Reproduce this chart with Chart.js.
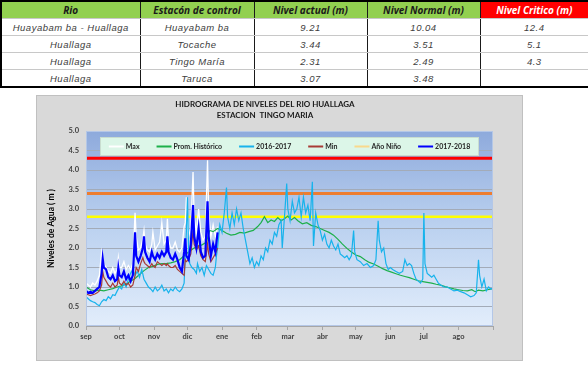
<!DOCTYPE html>
<html>
<head>
<meta charset="utf-8">
<script src="https://cdn.jsdelivr.net/npm/chart.js@4/dist/chart.umd.min.js"></script>
<style>
  body { margin: 0; background: #fff; width: 588px; height: 365px; position: relative; overflow: hidden; }
  table { position: absolute; left: 0; top: 0; width: 588px; border-collapse: collapse; table-layout: fixed; border: 2px solid #000; }
  td, th { padding: 0; text-align: center; border-left: 1px solid #1a1a1a; border-right: 1px solid #1a1a1a;
           border-top: 1px solid #c8c8c8; border-bottom: 1px solid #c8c8c8; white-space: nowrap; }
  th { height: 16px; background: #92d050; color: #1a1a1a; font: italic bold 10px "Open Sans", sans-serif; }
  th.critico { background: #ff0000; color: #fff; }
  td { height: 16px; font: italic 9.5px "Liberation Sans", Arial, sans-serif; letter-spacing: 0.5px; color: #404040; }
  #caja { position: absolute; left: 36px; top: 95px; width: 487px; height: 266px; box-sizing: border-box;
          border: 1px solid #c0c0c0; background: #d9d9d9; }
  #caja canvas { display: block; }
</style>
</head>
<body>
<table id="tabla">
  <colgroup><col style="width:139px"><col style="width:114px"><col style="width:113px"><col style="width:113px"><col style="width:109px"></colgroup>
  <thead><tr id="cabecera"></tr></thead>
  <tbody id="cuerpo"></tbody>
</table>
<div id="caja"><canvas id="grafico" width="485" height="264"></canvas></div>
<script>
// ---- tabla de estaciones ----
const encabezados = ['Rio', 'Estacón de control', 'Nivel actual (m)', 'Nivel Normal (m)', 'Nivel Critico (m)']
const rios = ['Huayabam ba - Huallaga', 'Huallaga', 'Huallaga', 'Huallaga']
const estaciones = ['Huayabam ba', 'Tocache', 'Tingo María', 'Taruca']
const nivelActual = ['9.21', '3.44', '2.31', '3.07']
const nivelNormal = ['10.04', '3.51', '2.49', '3.48']
const nivelCritico = ['12.4', '5.1', '4.3', '']

// ---- hidrograma: dias contados desde el 1 de setiembre ----
const meses = ['sep', 'oct', 'nov', 'dic', 'ene', 'feb', 'mar', 'abr', 'may', 'jun', 'jul', 'ago']
const inicioMes = [0, 30, 61, 91, 122, 153, 181, 212, 242, 273, 303, 334, 365]

// temporada 2017-2018 (Max, Min y niveles del año) comparten dias
const diasTemporada = [0, 2, 4, 6, 8, 10, 12, 14, 15, 16, 18, 20, 22, 24, 26, 28, 29, 30, 32, 34, 36, 38, 40, 42, 44, 45,
  47, 49, 51, 52, 53, 55, 57, 59, 60, 62, 64, 66, 68, 70, 72, 73, 74, 76, 78, 80, 82, 84, 86, 88, 89, 90, 92, 94, 96, 97,
  99, 101, 103, 105, 107, 109, 110, 112, 114, 116, 118]
const nivel2018 = [0.9, 0.85, 0.88, 0.85, 0.9, 0.95, 1.0, 1.35, 1.72, 1.5, 1.45, 1.25, 1.2, 1.3, 1.15, 1.2, 1.5, 1.3, 1.25, 1.4, 1.2, 1.3, 1.15, 1.3, 2.4, 1.8,
  1.65, 1.8, 2.0, 2.3, 1.9, 1.75, 1.65, 1.9, 1.8, 1.7, 1.85, 1.75, 1.9, 1.8, 1.9, 2.3, 1.9, 1.75, 1.7, 1.85, 1.7, 1.5, 1.4, 1.9, 2.25, 1.8, 1.7, 2.1, 3.1, 2.3,
  2.0, 2.5, 1.9, 1.75, 1.8, 3.2, 2.3, 1.8, 2.1, 1.9, 2.4]
const nivelMax = [1.1, 1.05, 1.0, 1.1, 1.05, 1.15, 1.3, 1.9, 1.75, 1.6, 1.5, 1.4, 1.35, 1.5, 1.35, 1.45, 1.75, 1.5, 1.5, 1.65, 1.45, 1.55, 1.45, 1.6, 2.9, 2.3,
  1.95, 2.0, 2.25, 2.45, 2.1, 1.95, 1.9, 2.1, 2.4, 1.95, 2.05, 2.15, 2.65, 2.1, 2.2, 2.75, 2.2, 2.0, 2.0, 2.15, 1.95, 1.9, 2.0, 2.55, 2.65, 3.3, 2.3, 2.5, 3.95, 2.8,
  2.4, 3.0, 2.4, 2.2, 2.3, 4.25, 2.9, 2.3, 2.6, 2.3, 2.55]
const nivelMin = [0.82, 0.8, 0.78, 0.8, 0.82, 0.85, 0.9, 1.05, 1.4, 1.25, 1.15, 1.05, 1.0, 1.1, 1.0, 1.05, 1.25, 1.1, 1.05, 1.15, 1.05, 1.1, 1.0, 1.05, 1.3, 1.5,
  1.4, 1.6, 1.75, 1.65, 1.6, 1.55, 1.5, 1.6, 1.55, 1.5, 1.65, 1.6, 1.55, 1.6, 1.55, 1.6, 1.55, 1.5, 1.5, 1.55, 1.45, 1.4, 1.35, 1.3, 1.7, 1.65, 1.7, 1.85, 2.45, 2.1,
  1.95, 2.05, 1.8, 1.7, 1.65, 2.1, 1.85, 1.65, 1.75, 1.85, 2.0]

// año 2016-2017
const dias2017 = [0, 2, 4, 6, 8, 10, 12, 14, 16, 18, 20, 22, 24, 26, 28, 30, 32, 34, 36, 38, 40, 42, 44, 46, 48, 50, 52, 54, 56, 58, 60,
  62, 64, 66, 68, 70, 72, 74, 76, 78, 80, 82, 84, 86, 88, 89, 90, 91, 92, 93, 95, 97, 99, 100, 102, 104, 106, 108, 110, 112, 114,
  116, 117, 118, 120, 122, 124, 126, 127, 129, 131, 133, 135, 137, 139, 141, 143, 145, 147, 149, 151, 153, 155, 157, 159, 161, 163,
  165, 167, 169, 171, 173, 175, 176, 178, 180, 181, 183, 185, 187, 189, 191, 193, 195, 197, 199, 201, 203, 204, 206, 208, 210, 212,
  214, 216, 218, 220, 222, 224, 226, 228, 230, 232, 234, 236, 238, 240, 241, 243, 246, 249, 252, 255, 258, 260, 262, 263, 265, 267,
  269, 271, 273, 275, 278, 281, 284, 286, 288, 290, 292, 294, 296, 298, 300, 302, 303, 304, 306, 308, 310, 312, 314, 316, 318, 321,
  324, 327, 330, 333, 336, 339, 342, 345, 348, 350, 352, 353, 355, 357, 359, 361, 363, 365]
const nivel2017 = [0.75, 0.7, 0.65, 0.62, 0.6, 0.55, 0.52, 0.62, 0.68, 0.65, 0.75, 0.7, 0.8, 0.78, 0.9, 1.0, 0.95, 1.1, 1.0, 1.2, 1.35, 1.45, 1.3, 1.4, 1.25, 1.45, 1.2, 1.1, 1.0, 0.95, 0.88,
  1.0, 0.9, 0.95, 1.05, 0.9, 0.95, 0.85, 0.95, 0.9, 1.0, 0.92, 0.88, 0.95, 1.1, 1.8, 2.4, 3.3, 2.0, 1.6, 1.5, 1.45, 1.35, 1.6, 1.4, 1.5, 1.3, 1.55, 1.45, 1.35, 1.3,
  1.5, 1.8, 2.0, 2.6, 2.4, 2.9, 3.55, 2.8, 2.5, 2.9, 2.6, 3.0, 2.7, 2.9, 2.5, 2.2, 1.9, 1.6, 1.75, 1.5, 1.65, 1.55, 1.8, 1.7, 2.0, 1.9,
  2.2, 2.1, 2.4, 2.3, 2.6, 2.7, 2.0, 2.8, 3.65, 3.0, 2.7, 3.2, 2.9, 3.0, 3.3, 2.8, 3.3, 2.9, 3.1, 2.7, 3.7, 2.05, 2.9, 2.6, 2.45, 2.2,
  2.35, 2.1, 2.0, 2.2, 2.05, 1.95, 2.1, 1.85, 1.8, 1.75, 1.8, 1.7, 1.8, 2.45, 1.9, 1.7, 1.65, 1.55, 1.6, 1.5, 1.55, 1.7, 2.7, 2.2, 1.9, 2.0,
  1.6, 1.45, 1.5, 1.45, 1.4, 1.35, 1.4, 1.7, 1.55, 1.6, 1.55, 1.35, 1.2, 1.15, 1.1, 1.2, 2.9, 1.6, 1.35, 1.3, 1.25, 1.3, 1.2, 1.1, 1.05, 1.0,
  1.0, 0.95, 0.9, 0.92, 0.88, 0.85, 0.8, 0.75, 0.78, 0.85, 1.7, 1.3, 1.0, 1.2, 0.9, 1.0, 0.95, 0.97]

// promedio histórico
const diasPromedio = [0, 4, 8, 12, 16, 20, 24, 28, 32, 36, 40, 44, 48, 52, 56, 60, 64, 68, 72, 76, 80, 84, 88, 92, 96, 100, 104, 108,
  111, 114, 118, 122, 126, 130, 134, 138, 142, 146, 150, 154, 157, 160, 163, 166, 169, 172, 175, 178, 181, 184, 187, 190, 194, 198,
  202, 206, 210, 214, 218, 222, 226, 230, 234, 238, 242, 246, 250, 254, 258, 262, 266, 270, 274, 278, 282, 286, 290, 294, 298, 302,
  306, 310, 314, 318, 322, 326, 330, 334, 338, 342, 346, 349, 352, 356, 360, 364]
const nivelPromedio = [1.0, 0.93, 0.9, 0.92, 0.9, 0.93, 0.96, 1.0, 1.03, 1.08, 1.15, 1.22, 1.32, 1.42, 1.5, 1.53, 1.58, 1.6, 1.6, 1.62, 1.65, 1.7, 1.8, 1.9, 1.98, 2.05, 2.08, 2.15,
  2.45, 2.42, 2.5, 2.45, 2.38, 2.33, 2.35, 2.4, 2.38, 2.42, 2.45, 2.55, 2.65, 2.8, 2.65, 2.72, 2.68, 2.78, 2.7, 2.75, 2.82, 2.72, 2.78, 2.7, 2.62, 2.65,
  2.58, 2.55, 2.5, 2.45, 2.4, 2.33, 2.22, 2.1, 1.99, 1.9, 1.82, 1.78, 1.7, 1.63, 1.59, 1.53, 1.47, 1.42, 1.38, 1.34, 1.3, 1.27, 1.24, 1.2, 1.16, 1.14,
  1.12, 1.1, 1.07, 1.05, 1.01, 0.98, 0.95, 0.93, 0.91, 0.9, 0.93, 0.88, 0.92, 0.9, 0.93, 0.95]

// niveles de alerta: crítico, naranja, amarillo
const umbrales = [4.3, 3.4, 2.8]
const coloresUmbral = ['#ff0000', '#ed7d31', '#ffff00']

// ---- tabla ----
const cab = document.getElementById('cabecera')
encabezados.forEach((t, i) => {
  const th = document.createElement('th')
  th.textContent = t
  if (i === 4) th.className = 'critico'
  cab.appendChild(th)
})
const cuerpo = document.getElementById('cuerpo')
rios.forEach((r, i) => {
  const tr = document.createElement('tr')
  ;[r, estaciones[i], nivelActual[i], nivelNormal[i], nivelCritico[i]].forEach(v => {
    const td = document.createElement('td')
    td.textContent = v
    tr.appendChild(td)
  })
  cuerpo.appendChild(tr)
})

// ---- gráfico ----
const puntos = (dias, valores) => dias.map((d, i) => ({ x: d, y: valores[i] }))
const fuente = 'Lato, "Liberation Sans", sans-serif'

const serie = (label, dias, valores, color, ancho, orden) => ({
  label, data: puntos(dias, valores), borderColor: color, backgroundColor: color,
  borderWidth: ancho, pointRadius: 0, tension: 0, order: orden, enLeyenda: true
})

const datasets = [
  serie('Max', diasTemporada, nivelMax, '#ffffff', 1.3, 5),
  serie('Prom. Histórico', diasPromedio, nivelPromedio, '#1db04b', 1.2, 4),
  serie('2016-2017', dias2017, nivel2017, '#17b3ec', 1.2, 3),
  serie('Min', diasTemporada, nivelMin, '#a83c36', 1.2, 2),
  serie('Año Niño', [], [], '#f9d98c', 1.2, 1),
  serie('2017-2018', diasTemporada, nivel2018, '#0000ff', 2.2, 0)
]
umbrales.forEach((u, i) => {
  datasets.push({
    data: [{ x: 0, y: u }, { x: 365, y: u }], borderColor: coloresUmbral[i],
    borderWidth: i === 2 ? 2.5 : 3, pointRadius: 0, order: 10 + i, enLeyenda: false
  })
})

// fondo degradado del área de trazado
const fondo = {
  id: 'fondo',
  beforeDraw (chart) {
    const { ctx, chartArea: a } = chart
    const g = ctx.createLinearGradient(0, a.top, 0, a.bottom)
    g.addColorStop(0, '#8eaadc')
    g.addColorStop(0.5, '#bcd2f0')
    g.addColorStop(1, '#e2edfb')
    ctx.save()
    ctx.fillStyle = g
    ctx.fillRect(a.left, a.top, a.width, a.height)
    ctx.restore()
  },
  afterDraw (chart) {
    const { ctx, chartArea: a } = chart
    ctx.save()
    ctx.strokeStyle = '#b4c7e7'
    ctx.lineWidth = 1
    ctx.strokeRect(a.left + 0.5, a.top + 0.5, a.width - 1, a.height - 1)
    ctx.restore()
  }
}

// leyenda dentro del área de trazado
const leyenda = {
  id: 'leyenda',
  afterDatasetsDraw (chart) {
    const { ctx, chartArea: a } = chart
    const x0 = a.left + 14
    const y0 = a.top + 6
    const w = a.width - 28
    const h = 19
    const gap = 17
    ctx.save()
    ctx.fillStyle = '#dcf6e8'
    ctx.fillRect(x0, y0, w, h)
    ctx.strokeStyle = '#c9ddd0'
    ctx.strokeRect(x0 + 0.5, y0 + 0.5, w - 1, h - 1)
    ctx.font = 'bold 7px ' + fuente
    ctx.textBaseline = 'middle'
    const items = chart.data.datasets.filter(d => d.enLeyenda)
    const anchos = items.map(d => 17 + ctx.measureText(d.label).width)
    const total = anchos.reduce((s, v) => s + v, 0) + gap * (items.length - 1)
    let x = x0 + (w - total) / 2
    const y = y0 + h / 2
    items.forEach((d, i) => {
      ctx.strokeStyle = d.borderColor
      ctx.lineWidth = 2
      ctx.beginPath()
      ctx.moveTo(x, y)
      ctx.lineTo(x + 15, y)
      ctx.stroke()
      ctx.fillStyle = '#262626'
      ctx.fillText(d.label, x + 17, y)
      x += anchos[i] + gap
    })
    ctx.restore()
  }
}

new Chart(document.getElementById('grafico'), {
  type: 'line',
  data: { datasets },
  options: {
    responsive: false,
    animation: false,
    devicePixelRatio: 1,
    layout: { padding: { left: 0, right: 29, top: 0, bottom: 19 } },
    plugins: {
      legend: { display: false },
      tooltip: { enabled: false },
      title: {
        display: true,
        text: ['HIDROGRAMA DE NIVELES DEL RIO HUALLAGA', 'ESTACION  TINGO MARIA'],
        color: '#1a1a1a',
        font: { family: fuente, size: 8, weight: 'bold', lineHeight: 1.375 },
        padding: { top: 2.5, bottom: 10.5 }
      }
    },
    scales: {
      x: {
        type: 'linear',
        min: 0,
        max: 365,
        afterBuildTicks: s => { s.ticks = inicioMes.map(v => ({ value: v })) },
        afterFit: s => { s.height = 15 },
        ticks: {
          autoSkip: false, maxRotation: 0, padding: 2, color: '#404040',
          font: { family: fuente, size: 7.5, weight: 'bold' },
          callback: (v, i) => meses[i] || ''
        },
        grid: { drawOnChartArea: false, tickLength: 4, color: '#a6a6a6' },
        border: { color: '#a6a6a6' }
      },
      y: {
        min: 0,
        max: 5,
        afterFit: s => { s.width = 49 },
        ticks: {
          stepSize: 0.5, padding: 7, color: '#404040',
          font: { family: fuente, size: 7.5, weight: 'bold' },
          callback: v => v.toFixed(1)
        },
        grid: { color: '#a3abb8', drawTicks: false },
        border: { display: false },
        title: {
          display: true,
          text: 'Niveles de Agua ( m )',
          color: '#000',
          font: { family: fuente, size: 8.5, weight: 'bold' },
          padding: { top: 9, bottom: 0 }
        }
      }
    }
  },
  plugins: [fondo, leyenda]
})
</script>
</body>
</html>
